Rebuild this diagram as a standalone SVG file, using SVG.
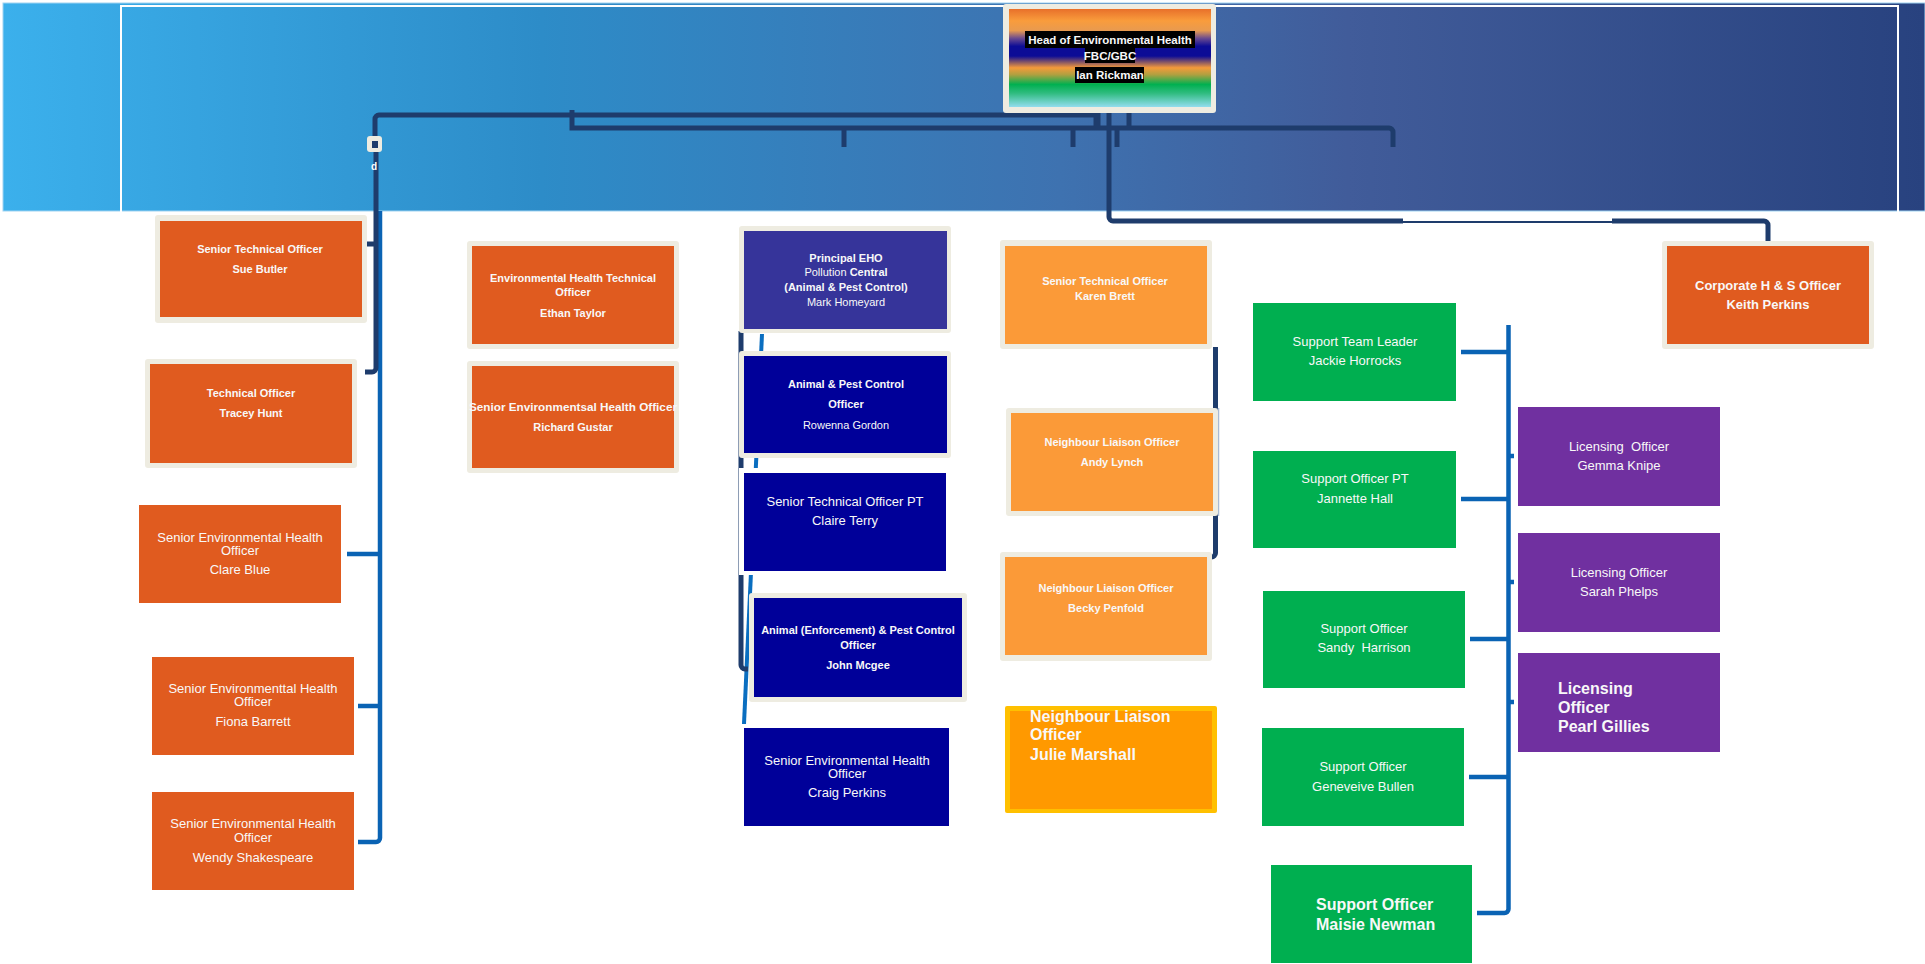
<svg xmlns="http://www.w3.org/2000/svg" width="1925" height="964" viewBox="0 0 1925 964">
<defs>
<linearGradient id="ban" x1="0" y1="0" x2="1" y2="0">
<stop offset="0" stop-color="#3BB0EC"/>
<stop offset="0.28" stop-color="#2D8CC8"/>
<stop offset="0.55" stop-color="#3E72B0"/>
<stop offset="0.7" stop-color="#415C9A"/>
<stop offset="1" stop-color="#28427F"/>
</linearGradient>
<linearGradient id="head" x1="0" y1="0" x2="0" y2="1">
<stop offset="0" stop-color="#E8702A"/>
<stop offset="0.12" stop-color="#F99C3C"/>
<stop offset="0.22" stop-color="#E89A50"/>
<stop offset="0.3" stop-color="#6A4A90"/>
<stop offset="0.38" stop-color="#0C0C96"/>
<stop offset="0.48" stop-color="#0C0C96"/>
<stop offset="0.6" stop-color="#F59A3A"/>
<stop offset="0.67" stop-color="#B0A040"/>
<stop offset="0.77" stop-color="#00B050"/>
<stop offset="0.86" stop-color="#30BC80"/>
<stop offset="1" stop-color="#92DDEE"/>
</linearGradient>
</defs>
<style>
.cream{fill:#EEECE1}
.org{fill:#E05B1F}
.lorg{fill:#FB9A38}
.ind{fill:#36349A}
.nb{fill:#000099}
.grn{fill:#00AF50}
.pur{fill:#7030A0}
.b{font-family:"Liberation Sans",Arial,sans-serif;font-weight:bold;font-size:11px;fill:#F8F8F8;text-anchor:middle}
.r{font-family:"Liberation Sans",Arial,sans-serif;font-size:13px;fill:#F8F8F8;text-anchor:middle}
.rs{font-family:"Liberation Sans",Arial,sans-serif;font-size:11px;fill:#F8F8F8;text-anchor:middle}
.big{font-family:"Liberation Sans",Arial,sans-serif;font-weight:bold;font-size:16px;fill:#F8F8F8}
.nv{fill:none;stroke:#1E3C6C;stroke-width:5}
.bl{fill:none;stroke:#0A63B4;stroke-width:4.5}
</style>
<g id="banner">
<rect x="3" y="3" width="1922" height="208" fill="url(#ban)" stroke="#9FD3F2" stroke-width="1"/>
<rect x="121" y="6" width="1777" height="208" fill="none" stroke="#FFFFFF" stroke-width="2"/>
</g>
<g id="connectors">
<path class="nv" d="M375,137 V119 a4 4 0 0 1 4 -4 H1098 V128"/>
<path class="nv" d="M572,110 V128 H1389 a4 4 0 0 1 4 4 V147"/>
<path class="nv" d="M844,128 V147 M1073,128 V147 M1117,128 V147 M1129,108 V128 M1096,108 V128"/>
<path class="nv" d="M1109,108 V217 a4 4 0 0 0 4 4 H1403"/>
<path class="nv" style="stroke-width:2" d="M1403,222 H1614"/>
<path class="nv" d="M1612,221 H1764 a4 4 0 0 1 4 4 V241"/>
<path class="bl" d="M380,211 V838 a4 4 0 0 1 -4 4 H358 M347,554 H380 M358,706 H380"/>
<path class="nv" d="M376,152 V368 a4 4 0 0 1 -4 4 H365 M376,244 H367"/>
<path class="bl" style="stroke-width:4;stroke:#0A6EC0" d="M762,334 L744,724"/>
<path class="nv" d="M741,331 V665 a4 4 0 0 0 4 4 H748"/>
<path class="nv" d="M1215.5,347 V553 a4 4 0 0 1 -4 4 H1208"/>
<path fill="none" stroke="#A8BAD4" stroke-width="1.5" d="M1218.5,408 V516"/>
<path class="bl" d="M1508.5,325 V909 a4 4 0 0 1 -4 4 H1477 M1461,352 H1508 M1461,499 H1508 M1470,639 H1508 M1469,777 H1508 M1508,456 H1514 M1508,582 H1514 M1508,702 H1514"/>
</g>
<g id="marker-d">
<rect x="367" y="136" width="15" height="16" rx="3" class="cream"/>
<rect x="372" y="141" width="6" height="7" fill="#1E3C6C"/>
<text x="374" y="170" font-family="Liberation Sans,Arial,sans-serif" font-size="10" font-weight="bold" fill="#FFFFFF" text-anchor="middle">d</text>
</g>
<g id="head-node">
<rect x="1003" y="4" width="213" height="109" rx="3" class="cream"/>
<rect x="1009" y="9" width="202" height="98" fill="url(#head)"/>
<rect x="1025" y="31" width="170" height="17" fill="#000"/>
<rect x="1085" y="48" width="50" height="15" fill="#000"/>
<rect x="1075" y="67" width="69" height="16" fill="#000"/>
<text class="b" style="font-size:11.5px" x="1110" y="44">Head of Environmental Health</text>
<text class="b" style="font-size:11.5px" x="1110" y="60">FBC/GBC</text>
<text class="b" style="font-size:11.5px" x="1110" y="79">Ian Rickman</text>
</g>
<g id="sue-butler">
<rect x="155" y="215" width="212" height="108" rx="3" class="cream"/>
<rect x="160" y="221" width="202" height="96" class="org"/>
<text class="b" x="260" y="253">Senior Technical Officer</text>
<text class="b" x="260" y="273">Sue Butler</text>
</g>
<g id="tracey-hunt">
<rect x="145" y="359" width="212" height="109" rx="3" class="cream"/>
<rect x="150" y="364" width="202" height="99" class="org"/>
<text class="b" x="251" y="397">Technical Officer</text>
<text class="b" x="251" y="417">Tracey Hunt</text>
</g>
<g id="clare-blue">
<rect x="139" y="505" width="202" height="98" class="org"/>
<text class="r" x="240" y="542">Senior Environmental Health</text>
<text class="r" x="240" y="555">Officer</text>
<text class="r" x="240" y="574">Clare Blue</text>
</g>
<g id="fiona-barrett">
<rect x="152" y="657" width="202" height="98" class="org"/>
<text class="r" x="253" y="693">Senior Environmenttal Health</text>
<text class="r" x="253" y="706">Officer</text>
<text class="r" x="253" y="726">Fiona Barrett</text>
</g>
<g id="wendy-shakespeare">
<rect x="152" y="792" width="202" height="98" class="org"/>
<text class="r" x="253" y="828">Senior Environmental Health</text>
<text class="r" x="253" y="842">Officer</text>
<text class="r" x="253" y="862">Wendy Shakespeare</text>
</g>
<g id="ethan-taylor">
<rect x="467" y="241" width="212" height="108" rx="3" class="cream"/>
<rect x="472" y="246" width="202" height="98" class="org"/>
<text class="b" x="573" y="282">Environmental Health Technical</text>
<text class="b" x="573" y="296">Officer</text>
<text class="b" x="573" y="317">Ethan Taylor</text>
</g>
<g id="richard-gustar">
<rect x="467" y="361" width="212" height="112" rx="3" class="cream"/>
<rect x="472" y="366" width="202" height="102" class="org"/>
<text class="b" x="573" y="411" textLength="208" lengthAdjust="spacingAndGlyphs">Senior Environmentsal Health Officer</text>
<text class="b" x="573" y="431">Richard Gustar</text>
</g>
<g id="mark-homeyard">
<rect x="739" y="226" width="212" height="107" rx="3" class="cream"/>
<rect x="744" y="231" width="203" height="98" class="ind"/>
<text class="b" x="846" y="262">Principal EHO</text>
<text class="b" x="846" y="276"><tspan font-weight="normal">Pollution </tspan>Central</text>
<text class="b" x="846" y="291">(Animal &amp; Pest Control)</text>
<text class="rs" x="846" y="306">Mark Homeyard</text>
</g>
<g id="rowenna-gordon">
<rect x="739" y="351" width="212" height="107" rx="3" class="cream"/>
<rect x="744" y="356" width="203" height="97" class="nb"/>
<text class="b" x="846" y="388">Animal &amp; Pest Control</text>
<text class="b" x="846" y="408">Officer</text>
<text class="rs" x="846" y="429">Rowenna Gordon</text>
</g>
<g id="claire-terry">
<rect x="739" y="468" width="209" height="107" fill="#FFFFFF"/>
<rect x="744" y="473" width="202" height="98" class="nb"/>
<text class="r" x="845" y="506">Senior Technical Officer PT</text>
<text class="r" x="845" y="525">Claire Terry</text>
</g>
<g id="john-mcgee">
<rect x="749" y="593" width="218" height="109" rx="3" class="cream"/>
<rect x="754" y="598" width="208" height="99" class="nb"/>
<text class="b" x="858" y="634">Animal (Enforcement) &amp; Pest Control</text>
<text class="b" x="858" y="649">Officer</text>
<text class="b" x="858" y="669">John Mcgee</text>
</g>
<g id="craig-perkins">
<rect x="744" y="728" width="205" height="98" class="nb"/>
<text class="r" x="847" y="765">Senior Environmental Health</text>
<text class="r" x="847" y="778">Officer</text>
<text class="r" x="847" y="797">Craig Perkins</text>
</g>
<g id="karen-brett">
<rect x="1000" y="240" width="212" height="109" rx="3" class="cream"/>
<rect x="1005" y="246" width="202" height="98" class="lorg"/>
<text class="b" x="1105" y="285">Senior Technical Officer</text>
<text class="b" x="1105" y="300">Karen Brett</text>
</g>
<g id="andy-lynch">
<rect x="1006" y="408" width="212" height="108" rx="3" class="cream"/>
<rect x="1011" y="413" width="202" height="98" class="lorg"/>
<text class="b" x="1112" y="446">Neighbour Liaison Officer</text>
<text class="b" x="1112" y="466">Andy Lynch</text>
</g>
<g id="becky-penfold">
<rect x="1000" y="552" width="212" height="109" rx="3" class="cream"/>
<rect x="1005" y="557" width="202" height="98" class="lorg"/>
<text class="b" x="1106" y="592">Neighbour Liaison Officer</text>
<text class="b" x="1106" y="612">Becky Penfold</text>
</g>
<g id="julie-marshall">
<rect x="1005" y="706" width="212" height="107" rx="2" fill="#FFC000"/>
<rect x="1010" y="711" width="202" height="98" fill="#FF9900"/>
<text class="big" x="1030" y="722">Neighbour Liaison</text>
<text class="big" x="1030" y="740">Officer</text>
<text class="big" x="1030" y="760">Julie Marshall</text>
</g>
<g id="jackie-horrocks">
<rect x="1253" y="303" width="203" height="98" class="grn"/>
<text class="r" x="1355" y="346">Support Team Leader</text>
<text class="r" x="1355" y="365">Jackie Horrocks</text>
</g>
<g id="jannette-hall">
<rect x="1253" y="451" width="203" height="97" class="grn"/>
<text class="r" x="1355" y="483">Support Officer PT</text>
<text class="r" x="1355" y="503">Jannette Hall</text>
</g>
<g id="sandy-harrison">
<rect x="1263" y="591" width="202" height="97" class="grn"/>
<text class="r" x="1364" y="633" xml:space="preserve">Support Officer</text>
<text class="r" x="1364" y="652" xml:space="preserve" style="white-space:pre">Sandy  Harrison</text>
</g>
<g id="geneveive-bullen">
<rect x="1262" y="728" width="202" height="98" class="grn"/>
<text class="r" x="1363" y="771">Support Officer</text>
<text class="r" x="1363" y="791">Geneveive Bullen</text>
</g>
<g id="maisie-newman">
<rect x="1271" y="865" width="201" height="98" class="grn"/>
<text class="big" x="1316" y="910">Support Officer</text>
<text class="big" x="1316" y="930">Maisie Newman</text>
</g>
<g id="gemma-knipe">
<rect x="1518" y="407" width="202" height="99" class="pur"/>
<text class="r" x="1619" y="451" xml:space="preserve" style="white-space:pre">Licensing  Officer</text>
<text class="r" x="1619" y="470">Gemma Knipe</text>
</g>
<g id="sarah-phelps">
<rect x="1518" y="533" width="202" height="99" class="pur"/>
<text class="r" x="1619" y="577">Licensing Officer</text>
<text class="r" x="1619" y="596">Sarah Phelps</text>
</g>
<g id="pearl-gillies">
<rect x="1518" y="653" width="202" height="99" class="pur"/>
<text class="big" x="1558" y="694">Licensing</text>
<text class="big" x="1558" y="713">Officer</text>
<text class="big" x="1558" y="732">Pearl Gillies</text>
</g>
<g id="keith-perkins">
<rect x="1662" y="241" width="212" height="108" rx="3" class="cream"/>
<rect x="1667" y="246" width="202" height="98" class="org"/>
<text class="b" style="font-size:13px" x="1768" y="290">Corporate H &amp; S Officer</text>
<text class="b" style="font-size:13px" x="1768" y="309">Keith Perkins</text>
</g>
</svg>
